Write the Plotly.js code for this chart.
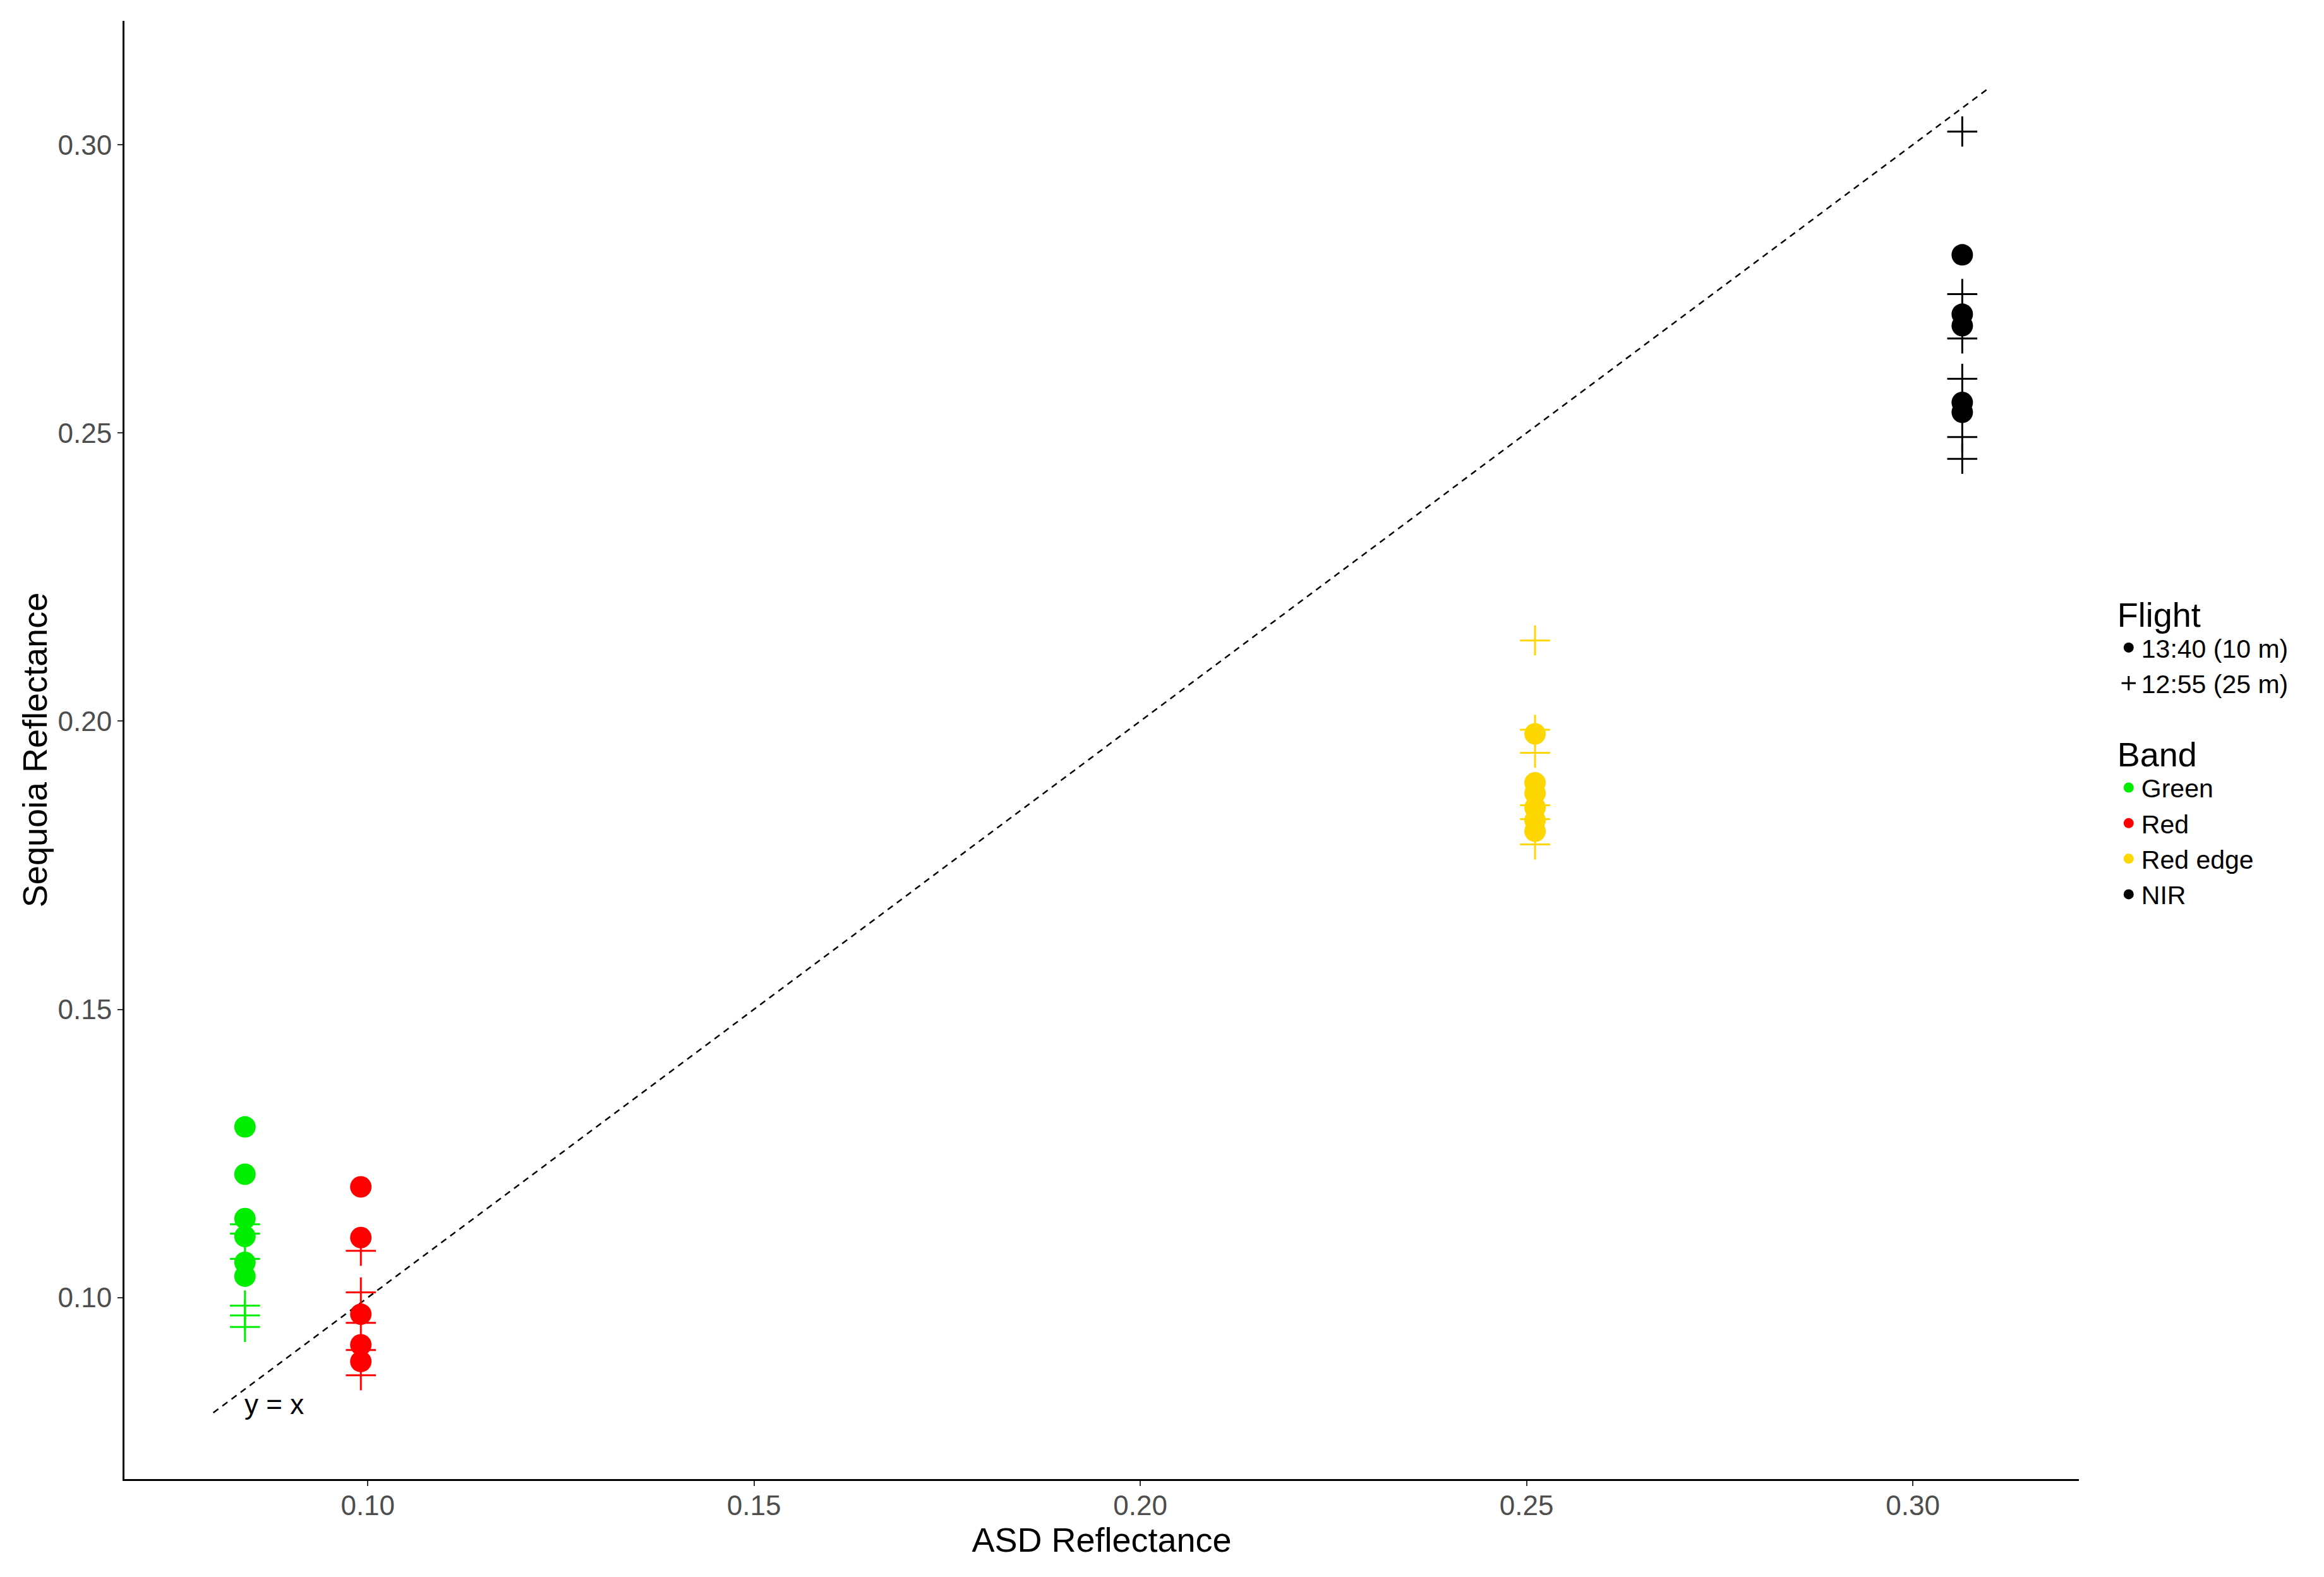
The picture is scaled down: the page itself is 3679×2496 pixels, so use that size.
<!DOCTYPE html>
<html>
<head>
<meta charset="utf-8">
<script src="https://cdn.plot.ly/plotly-3.0.1.min.js"></script>
<style>
  html, body { margin: 0; padding: 0; background: #fff; }
  #chart { width: 3679px; height: 2496px; }
</style>
</head>
<body>
<div id="chart"></div>
<script>
// ---- data ----
const bands = ["Green", "Red", "Red edge", "NIR"];
const asdReflectance = [0.0841, 0.0991, 0.2511, 0.3064];
const flights = ["13:40 (10 m)", "12:55 (25 m)"];

// Sequoia reflectance, flight 13:40 (10 m)
const green_1340   = [0.1296, 0.1214, 0.1137, 0.1106, 0.1061, 0.1037];
const red_1340     = [0.1192, 0.1104, 0.0971, 0.0918, 0.0889];
const rededge_1340 = [0.1978, 0.1893, 0.1875, 0.1850, 0.1828, 0.1809];
const nir_1340     = [0.2809, 0.2706, 0.2686, 0.2553, 0.2536];

// Sequoia reflectance, flight 12:55 (25 m)
const green_1255   = [0.1127, 0.1111, 0.1067, 0.0986, 0.0969, 0.0949];
const red_1255     = [0.1081, 0.1009, 0.0956, 0.0909, 0.0865];
const rededge_1255 = [0.2140, 0.1985, 0.1945, 0.1854, 0.1830, 0.1786];
const nir_1255     = [0.3023, 0.2741, 0.2664, 0.2594, 0.2493, 0.2455];

// reference line y = x
const refLine = [0.08, 0.31];

// ---- styles ----
const bandColors = ["#00EE00", "#FF0000", "#FFD700", "#000000"];
const FONT = "Liberation Sans, Arial, sans-serif";

const series1340 = [green_1340, red_1340, rededge_1340, nir_1340];
const series1255 = [green_1255, red_1255, rededge_1255, nir_1255];

const traces = [];

// y = x dashed line
traces.push({
  x: refLine, y: refLine, mode: "lines", type: "scatter",
  line: { color: "#000", width: 2.5, dash: "10px,8px" },
  showlegend: false, hoverinfo: "skip"
});

// crosses (12:55) drawn first
bands.forEach((b, i) => {
  const ys = series1255[i];
  traces.push({
    x: ys.map(() => asdReflectance[i]), y: ys,
    mode: "markers", type: "scatter", name: b + " " + flights[1],
    marker: { symbol: "cross-thin", size: 34, color: bandColors[i],
              line: { color: bandColors[i], width: 3 } },
    showlegend: false
  });
});
// circles (13:40) on top
bands.forEach((b, i) => {
  const ys = series1340[i];
  traces.push({
    x: ys.map(() => asdReflectance[i]), y: ys,
    mode: "markers", type: "scatter", name: b + " " + flights[0],
    marker: { symbol: "circle", size: 34, color: bandColors[i], line: { width: 0 } },
    showlegend: false
  });
});

// legend: Flight
traces.push({
  x: [null], y: [null], mode: "markers", type: "scatter", name: flights[0],
  marker: { symbol: "circle", size: 34, color: "#000" }, legend: "legend"
});
traces.push({
  x: [null], y: [null], mode: "markers", type: "scatter", name: flights[1],
  marker: { symbol: "cross-thin", size: 34, color: "#000", line: { color: "#000", width: 3 } },
  legend: "legend"
});
// legend: Band
bands.forEach((b, i) => {
  traces.push({
    x: [null], y: [null], mode: "markers", type: "scatter", name: b,
    marker: { symbol: "circle", size: 34, color: bandColors[i] }, legend: "legend2"
  });
});

const axisCommon = {
  range: [0.0685, 0.3215],
  showgrid: false, zeroline: false,
  showline: true, linecolor: "#000", linewidth: 3,
  ticks: "outside", ticklen: 8, tickwidth: 2, tickcolor: "#333",
  tickfont: { family: FONT, size: 44, color: "#4D4D4D" },
  tick0: 0.10, dtick: 0.05, tickformat: ".2f"
};

const layout = {
  width: 3679, height: 2496,
  paper_bgcolor: "#fff", plot_bgcolor: "#fff",
  margin: { l: 197, r: 388, t: 33, b: 155 },
  font: { family: FONT, color: "#000" },
  xaxis: Object.assign({}, axisCommon, {
    ticklabelstandoff: -7,
    title: { text: "ASD Reflectance", font: { family: FONT, size: 54, color: "#000" }, standoff: 4 }
  }),
  yaxis: Object.assign({}, axisCommon, {
    ticklabelstandoff: 0,
    title: { text: "Sequoia Reflectance", font: { family: FONT, size: 54, color: "#000" }, standoff: 0 }
  }),
  legend: {
    x: 1.019, xanchor: "left", y: 0.615, yanchor: "top",
    title: { text: "Flight", font: { family: FONT, size: 54, color: "#000" } },
    font: { family: FONT, size: 41, color: "#000" },
    itemsizing: "trace", tracegroupgap: 0, bgcolor: "rgba(0,0,0,0)"
  },
  legend2: {
    x: 1.019, xanchor: "left", y: 0.519, yanchor: "top",
    title: { text: "Band", font: { family: FONT, size: 54, color: "#000" } },
    font: { family: FONT, size: 41, color: "#000" },
    itemsizing: "trace", tracegroupgap: 0, bgcolor: "rgba(0,0,0,0)"
  },
  annotations: [{
    x: 0.0879, y: 0.0815, xref: "x", yref: "y", text: "y = x", showarrow: false,
    font: { family: FONT, size: 44, color: "#000" }
  }]
};

Plotly.newPlot("chart", traces, layout, { staticPlot: true, displayModeBar: false });
</script>
</body>
</html>
